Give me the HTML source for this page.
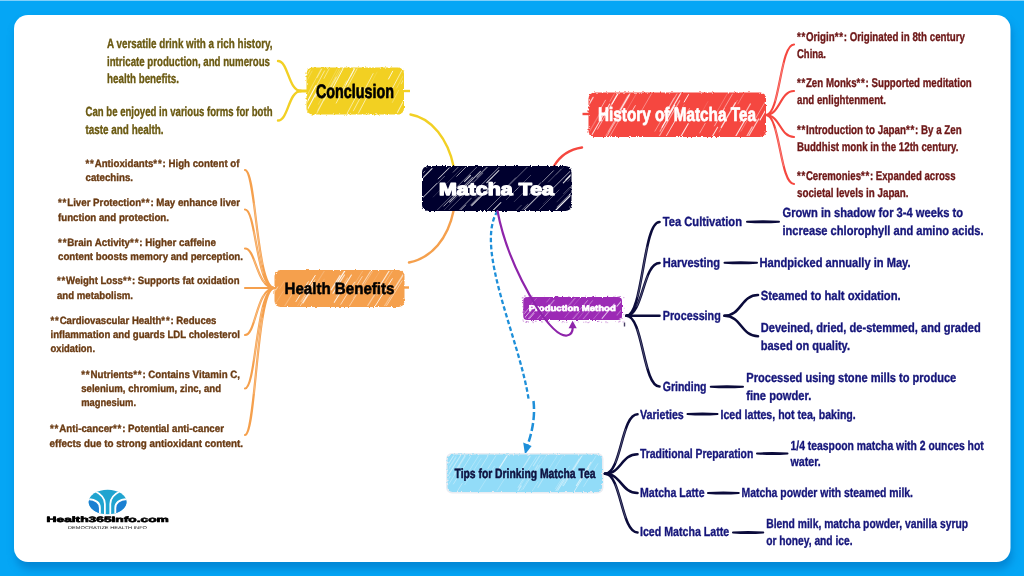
<!DOCTYPE html>
<html><head><meta charset="utf-8"><title>Matcha Tea</title>
<style>
html,body{margin:0;padding:0;width:1024px;height:576px;overflow:hidden;background:#05a6f5;}
svg{display:block;position:absolute;left:0;top:0;font-family:"Liberation Sans", sans-serif;will-change:transform;text-rendering:geometricPrecision;}
</style></head><body>
<svg width="1024" height="576" viewBox="0 0 1024 576">
<defs>
<filter id="rough" x="-5%" y="-10%" width="110%" height="120%"><feTurbulence type="fractalNoise" baseFrequency="0.55" numOctaves="2" seed="3" result="n"/><feDisplacementMap in="SourceGraphic" in2="n" scale="3" xChannelSelector="R" yChannelSelector="G"/></filter>
<filter id="sh" x="-5%" y="-5%" width="110%" height="110%"><feGaussianBlur stdDeviation="4"/></filter>
<linearGradient id="lg" x1="0" y1="0" x2="0" y2="1"><stop offset="0" stop-color="#2bb0dc"/><stop offset="1" stop-color="#1c7fd0"/></linearGradient>
</defs>
<rect width="1024" height="576" fill="#05a6f5"/>
<rect width="1024" height="1" fill="#7fd0fa"/>
<rect x="16" y="21" width="996" height="548" rx="14" fill="#0270bd" opacity="0.6" filter="url(#sh)"/>
<rect x="14" y="15" width="996.5" height="547" rx="14" fill="#fff"/>

<path d="M404,91 L410,91" stroke="#f2d024" stroke-width="2.4" fill="none"/>
<path d="M410.5,114.5 C432,118 448,140 453.5,166" stroke="#f2d024" stroke-width="2.4" fill="none" stroke-linecap="round"/>
<path d="M453.5,211 C448,238 432,258 409,262.5" stroke="#f5a04d" stroke-width="2.4" fill="none" stroke-linecap="round"/>
<path d="M404,287.5 L409,287.5" stroke="#f5a04d" stroke-width="2.4" fill="none"/>
<path d="M554,166 C560,156 568,149.5 582,147.5" stroke="#f5473f" stroke-width="2.4" fill="none" stroke-linecap="round"/>
<path d="M582.5,114 L589,114" stroke="#f5473f" stroke-width="2.4" fill="none"/>
<path d="M497.5,211 C474,248 520,340 528.7,400" stroke="#1e8fd9" stroke-width="2.3" fill="none" stroke-dasharray="4.5,2.5"/>
<path d="M533.5,401 C535.5,418 531.5,434 527.3,446" stroke="#1e8fd9" stroke-width="2.5" fill="none" stroke-dasharray="8,3"/>
<path d="M525,454.5 L523.2,442.6 L531.6,446 Z" fill="#1e8fd9"/>
<clipPath id="ccon"><rect x="307.5" y="68.5" width="95.5" height="45.0" rx="6"/></clipPath>
<rect x="306.5" y="67.5" width="97.5" height="47.0" rx="6" fill="#f2d024" filter="url(#rough)"/>
<g clip-path="url(#ccon)" stroke="#fff" stroke-linecap="round">
<line x1="328.5" y1="89.3" x2="344.1" y2="59.9" stroke-width="0.90" stroke-opacity="0.25"/>
<line x1="334.3" y1="82.5" x2="347.3" y2="58.0" stroke-width="0.83" stroke-opacity="0.23"/>
<line x1="303.2" y1="82.6" x2="314.8" y2="60.9" stroke-width="0.59" stroke-opacity="0.82"/>
<line x1="314.9" y1="116.8" x2="336.1" y2="77.1" stroke-width="0.80" stroke-opacity="0.63"/>
<line x1="396.7" y1="88.0" x2="416.2" y2="51.4" stroke-width="0.61" stroke-opacity="0.42"/>
<line x1="304.8" y1="99.6" x2="323.5" y2="64.4" stroke-width="0.94" stroke-opacity="0.34"/>
<line x1="363.3" y1="98.0" x2="377.1" y2="72.0" stroke-width="0.54" stroke-opacity="0.25"/>
<line x1="317.8" y1="110.4" x2="329.4" y2="88.6" stroke-width="0.94" stroke-opacity="0.44"/>
<line x1="341.1" y1="98.8" x2="359.4" y2="64.4" stroke-width="0.68" stroke-opacity="0.72"/>
<line x1="353.4" y1="110.8" x2="373.1" y2="73.6" stroke-width="0.72" stroke-opacity="0.75"/>
<line x1="401.2" y1="83.8" x2="412.6" y2="62.3" stroke-width="0.61" stroke-opacity="0.77"/>
<line x1="346.1" y1="84.4" x2="362.1" y2="54.3" stroke-width="0.93" stroke-opacity="0.77"/>
<line x1="387.4" y1="97.7" x2="403.9" y2="66.7" stroke-width="0.93" stroke-opacity="0.65"/>
<line x1="340.0" y1="126.8" x2="361.1" y2="87.2" stroke-width="1.00" stroke-opacity="0.56"/>
<line x1="300.2" y1="115.1" x2="315.8" y2="85.8" stroke-width="1.12" stroke-opacity="0.94"/>
<line x1="324.1" y1="100.7" x2="340.1" y2="70.6" stroke-width="0.85" stroke-opacity="0.22"/>
<line x1="317.1" y1="77.6" x2="322.0" y2="68.5" stroke-width="0.60" stroke-opacity="0.78"/>
<line x1="318.3" y1="104.4" x2="338.0" y2="67.3" stroke-width="0.84" stroke-opacity="0.26"/>
<line x1="351.2" y1="126.7" x2="369.9" y2="91.4" stroke-width="0.71" stroke-opacity="0.85"/>
<line x1="336.2" y1="103.1" x2="356.1" y2="65.6" stroke-width="0.61" stroke-opacity="0.92"/>
<line x1="316.4" y1="86.0" x2="324.5" y2="70.9" stroke-width="0.94" stroke-opacity="0.56"/>
<line x1="324.0" y1="78.4" x2="335.5" y2="56.9" stroke-width="0.92" stroke-opacity="0.48"/>
<line x1="397.4" y1="112.4" x2="410.6" y2="87.5" stroke-width="1.01" stroke-opacity="0.66"/>
<line x1="298.3" y1="126.7" x2="316.3" y2="92.8" stroke-width="1.10" stroke-opacity="0.86"/>
<line x1="340.9" y1="91.6" x2="346.5" y2="80.9" stroke-width="0.55" stroke-opacity="0.68"/>
<line x1="305.4" y1="83.6" x2="312.1" y2="71.0" stroke-width="0.54" stroke-opacity="0.46"/>
<line x1="298.7" y1="79.9" x2="304.3" y2="69.3" stroke-width="0.52" stroke-opacity="0.47"/>
<line x1="392.3" y1="102.5" x2="398.7" y2="90.3" stroke-width="0.76" stroke-opacity="0.39"/>
<line x1="331.0" y1="91.4" x2="350.3" y2="55.1" stroke-width="0.85" stroke-opacity="0.94"/>
<line x1="350.7" y1="76.8" x2="356.3" y2="66.2" stroke-width="0.70" stroke-opacity="0.46"/>
<line x1="388.5" y1="79.0" x2="392.7" y2="71.2" stroke-width="0.90" stroke-opacity="0.91"/>
<line x1="315.1" y1="97.0" x2="319.4" y2="89.0" stroke-width="1.23" stroke-opacity="0.60"/>
</g>
<clipPath id="chis"><rect x="589.5" y="93.5" width="175.5" height="42.5" rx="6"/></clipPath>
<rect x="588.5" y="92.5" width="177.5" height="44.5" rx="6" fill="#f5473f" filter="url(#rough)"/>
<g clip-path="url(#chis)" stroke="#fff" stroke-linecap="round">
<line x1="741.0" y1="131.1" x2="749.8" y2="115.9" stroke-width="0.63" stroke-opacity="0.48"/>
<line x1="719.1" y1="132.0" x2="737.3" y2="100.4" stroke-width="0.67" stroke-opacity="0.45"/>
<line x1="725.9" y1="153.3" x2="745.4" y2="119.4" stroke-width="1.11" stroke-opacity="0.80"/>
<line x1="715.5" y1="114.2" x2="728.9" y2="90.9" stroke-width="0.52" stroke-opacity="0.47"/>
<line x1="584.4" y1="112.5" x2="593.1" y2="97.4" stroke-width="1.22" stroke-opacity="0.72"/>
<line x1="656.3" y1="153.3" x2="678.4" y2="115.1" stroke-width="0.77" stroke-opacity="0.92"/>
<line x1="621.0" y1="109.2" x2="628.6" y2="96.0" stroke-width="0.97" stroke-opacity="0.35"/>
<line x1="745.9" y1="140.9" x2="758.7" y2="118.9" stroke-width="1.10" stroke-opacity="0.69"/>
<line x1="589.1" y1="139.7" x2="609.7" y2="104.1" stroke-width="1.06" stroke-opacity="0.79"/>
<line x1="663.9" y1="116.4" x2="682.3" y2="84.5" stroke-width="1.10" stroke-opacity="0.45"/>
<line x1="760.0" y1="119.9" x2="771.3" y2="100.3" stroke-width="1.04" stroke-opacity="0.91"/>
<line x1="612.0" y1="104.0" x2="618.8" y2="92.3" stroke-width="1.10" stroke-opacity="0.88"/>
<line x1="600.0" y1="148.2" x2="621.9" y2="110.3" stroke-width="0.76" stroke-opacity="0.69"/>
<line x1="684.2" y1="102.0" x2="688.5" y2="94.6" stroke-width="0.99" stroke-opacity="0.93"/>
<line x1="676.3" y1="144.4" x2="688.2" y2="123.7" stroke-width="1.12" stroke-opacity="0.85"/>
<line x1="618.4" y1="111.8" x2="627.7" y2="95.6" stroke-width="0.94" stroke-opacity="0.38"/>
<line x1="628.9" y1="116.7" x2="635.3" y2="105.6" stroke-width="0.77" stroke-opacity="0.88"/>
<line x1="659.2" y1="136.2" x2="679.7" y2="100.7" stroke-width="1.19" stroke-opacity="0.52"/>
<line x1="670.8" y1="127.9" x2="684.3" y2="104.4" stroke-width="0.83" stroke-opacity="0.21"/>
<line x1="608.5" y1="108.8" x2="627.1" y2="76.6" stroke-width="0.86" stroke-opacity="0.33"/>
<line x1="714.5" y1="125.9" x2="724.4" y2="108.6" stroke-width="0.92" stroke-opacity="0.59"/>
<line x1="723.4" y1="109.5" x2="737.7" y2="84.9" stroke-width="0.71" stroke-opacity="0.39"/>
<line x1="721.2" y1="127.4" x2="735.4" y2="102.8" stroke-width="1.18" stroke-opacity="0.77"/>
<line x1="660.0" y1="131.2" x2="673.2" y2="108.3" stroke-width="1.02" stroke-opacity="0.58"/>
<line x1="662.0" y1="127.3" x2="674.7" y2="105.2" stroke-width="1.02" stroke-opacity="0.91"/>
<line x1="743.5" y1="142.0" x2="752.2" y2="126.9" stroke-width="1.21" stroke-opacity="0.62"/>
<line x1="737.9" y1="104.0" x2="744.1" y2="93.2" stroke-width="0.55" stroke-opacity="0.53"/>
<line x1="620.5" y1="109.8" x2="636.7" y2="81.7" stroke-width="1.17" stroke-opacity="0.79"/>
<line x1="604.4" y1="138.3" x2="620.5" y2="110.5" stroke-width="1.16" stroke-opacity="0.31"/>
<line x1="754.2" y1="120.8" x2="775.6" y2="83.8" stroke-width="0.87" stroke-opacity="0.50"/>
<line x1="765.6" y1="135.6" x2="772.6" y2="123.5" stroke-width="0.89" stroke-opacity="0.52"/>
<line x1="642.2" y1="109.7" x2="652.0" y2="92.7" stroke-width="0.51" stroke-opacity="0.74"/>
<line x1="685.2" y1="115.9" x2="689.5" y2="108.4" stroke-width="0.97" stroke-opacity="0.45"/>
<line x1="668.6" y1="114.4" x2="690.5" y2="76.3" stroke-width="1.23" stroke-opacity="0.79"/>
<line x1="600.8" y1="108.4" x2="605.5" y2="100.2" stroke-width="0.70" stroke-opacity="0.78"/>
<line x1="597.5" y1="129.2" x2="618.1" y2="93.4" stroke-width="0.69" stroke-opacity="0.81"/>
<line x1="604.3" y1="145.9" x2="618.7" y2="120.9" stroke-width="0.57" stroke-opacity="0.73"/>
<line x1="588.4" y1="133.3" x2="600.2" y2="112.9" stroke-width="1.20" stroke-opacity="0.25"/>
<line x1="699.7" y1="133.0" x2="705.2" y2="123.4" stroke-width="0.55" stroke-opacity="0.84"/>
<line x1="740.2" y1="121.5" x2="750.4" y2="103.9" stroke-width="1.20" stroke-opacity="0.61"/>
<line x1="626.9" y1="110.0" x2="640.5" y2="86.5" stroke-width="0.58" stroke-opacity="0.38"/>
<line x1="609.9" y1="101.4" x2="617.6" y2="88.1" stroke-width="0.73" stroke-opacity="0.43"/>
<line x1="719.3" y1="116.8" x2="732.5" y2="94.0" stroke-width="0.76" stroke-opacity="0.33"/>
<line x1="584.8" y1="107.4" x2="589.0" y2="99.9" stroke-width="0.91" stroke-opacity="0.75"/>
<line x1="608.5" y1="131.9" x2="629.6" y2="95.4" stroke-width="1.11" stroke-opacity="0.28"/>
<line x1="654.9" y1="131.2" x2="674.1" y2="97.9" stroke-width="0.88" stroke-opacity="0.49"/>
<line x1="707.3" y1="145.1" x2="717.6" y2="127.3" stroke-width="1.03" stroke-opacity="0.82"/>
<line x1="697.6" y1="119.5" x2="707.9" y2="101.6" stroke-width="0.60" stroke-opacity="0.24"/>
</g>
<clipPath id="chea"><rect x="275.5" y="271" width="128.0" height="35" rx="6"/></clipPath>
<rect x="274.5" y="270" width="130.0" height="37" rx="6" fill="#f5a04d" filter="url(#rough)"/>
<g clip-path="url(#chea)" stroke="#fff" stroke-linecap="round">
<line x1="275.3" y1="303.9" x2="283.5" y2="290.9" stroke-width="0.56" stroke-opacity="0.32"/>
<line x1="380.0" y1="313.8" x2="394.5" y2="290.6" stroke-width="0.68" stroke-opacity="0.41"/>
<line x1="307.2" y1="292.3" x2="313.9" y2="281.7" stroke-width="0.70" stroke-opacity="0.53"/>
<line x1="397.8" y1="316.1" x2="410.5" y2="295.9" stroke-width="1.22" stroke-opacity="0.38"/>
<line x1="310.7" y1="286.6" x2="315.0" y2="279.8" stroke-width="0.86" stroke-opacity="0.49"/>
<line x1="333.9" y1="287.0" x2="345.9" y2="267.8" stroke-width="0.70" stroke-opacity="0.20"/>
<line x1="279.6" y1="288.7" x2="284.5" y2="280.9" stroke-width="0.73" stroke-opacity="0.22"/>
<line x1="295.9" y1="301.6" x2="308.3" y2="281.8" stroke-width="0.99" stroke-opacity="0.76"/>
<line x1="364.6" y1="310.7" x2="374.9" y2="294.3" stroke-width="1.24" stroke-opacity="0.44"/>
<line x1="283.4" y1="308.1" x2="297.5" y2="285.5" stroke-width="1.13" stroke-opacity="0.23"/>
<line x1="386.6" y1="305.6" x2="402.1" y2="280.8" stroke-width="0.60" stroke-opacity="0.81"/>
<line x1="334.3" y1="302.3" x2="351.4" y2="275.0" stroke-width="1.12" stroke-opacity="0.80"/>
<line x1="343.9" y1="314.8" x2="358.6" y2="291.2" stroke-width="0.67" stroke-opacity="0.72"/>
<line x1="269.0" y1="282.8" x2="278.8" y2="267.1" stroke-width="1.13" stroke-opacity="0.28"/>
<line x1="340.8" y1="304.3" x2="354.6" y2="282.1" stroke-width="0.87" stroke-opacity="0.71"/>
<line x1="262.1" y1="312.1" x2="277.8" y2="286.9" stroke-width="0.90" stroke-opacity="0.58"/>
<line x1="354.0" y1="284.9" x2="369.6" y2="260.0" stroke-width="0.56" stroke-opacity="0.39"/>
<line x1="303.0" y1="302.9" x2="310.4" y2="291.1" stroke-width="1.23" stroke-opacity="0.75"/>
<line x1="332.9" y1="293.4" x2="344.5" y2="274.9" stroke-width="1.08" stroke-opacity="0.71"/>
<line x1="353.2" y1="298.1" x2="358.6" y2="289.4" stroke-width="0.69" stroke-opacity="0.31"/>
<line x1="367.1" y1="291.6" x2="380.0" y2="270.9" stroke-width="0.55" stroke-opacity="0.21"/>
<line x1="299.7" y1="306.8" x2="314.6" y2="283.0" stroke-width="0.72" stroke-opacity="0.71"/>
<line x1="336.1" y1="296.3" x2="347.5" y2="278.1" stroke-width="1.17" stroke-opacity="0.29"/>
<line x1="288.1" y1="321.1" x2="306.7" y2="291.3" stroke-width="0.84" stroke-opacity="0.21"/>
<line x1="378.7" y1="314.7" x2="389.9" y2="296.9" stroke-width="0.66" stroke-opacity="0.40"/>
<line x1="395.3" y1="288.3" x2="408.5" y2="267.3" stroke-width="0.89" stroke-opacity="0.31"/>
<line x1="394.5" y1="288.4" x2="411.3" y2="261.4" stroke-width="1.17" stroke-opacity="0.58"/>
<line x1="358.9" y1="293.0" x2="377.0" y2="264.1" stroke-width="0.52" stroke-opacity="0.56"/>
<line x1="264.4" y1="297.1" x2="275.6" y2="279.3" stroke-width="0.61" stroke-opacity="0.43"/>
<line x1="309.1" y1="295.4" x2="326.2" y2="268.0" stroke-width="1.06" stroke-opacity="0.20"/>
<line x1="377.7" y1="289.2" x2="396.2" y2="259.7" stroke-width="1.18" stroke-opacity="0.73"/>
<line x1="304.9" y1="292.0" x2="315.2" y2="275.5" stroke-width="0.94" stroke-opacity="0.95"/>
<line x1="315.8" y1="292.6" x2="324.2" y2="279.1" stroke-width="0.58" stroke-opacity="0.24"/>
<line x1="377.0" y1="295.5" x2="395.7" y2="265.7" stroke-width="0.70" stroke-opacity="0.39"/>
<line x1="336.0" y1="285.0" x2="346.0" y2="269.0" stroke-width="1.16" stroke-opacity="0.92"/>
<line x1="374.0" y1="308.0" x2="392.3" y2="278.7" stroke-width="0.91" stroke-opacity="0.91"/>
<line x1="362.5" y1="284.2" x2="378.0" y2="259.4" stroke-width="1.06" stroke-opacity="0.54"/>
<line x1="357.2" y1="284.6" x2="362.2" y2="276.6" stroke-width="0.60" stroke-opacity="0.90"/>
<line x1="331.2" y1="289.8" x2="340.0" y2="275.7" stroke-width="1.23" stroke-opacity="0.75"/>
<line x1="301.5" y1="301.4" x2="310.4" y2="287.2" stroke-width="0.80" stroke-opacity="0.62"/>
</g>
<clipPath id="cmat"><rect x="423" y="167" width="147.5" height="43" rx="6"/></clipPath>
<rect x="422" y="166" width="149.5" height="45" rx="6" fill="#05052e" filter="url(#rough)"/>
<g clip-path="url(#cmat)" stroke="#fff" stroke-linecap="round">
<line x1="438.1" y1="178.8" x2="449.2" y2="167.7" stroke-width="0.87" stroke-opacity="0.88"/>
<line x1="436.2" y1="222.6" x2="468.0" y2="190.9" stroke-width="0.60" stroke-opacity="0.54"/>
<line x1="440.4" y1="177.4" x2="455.0" y2="162.8" stroke-width="0.68" stroke-opacity="0.27"/>
<line x1="443.8" y1="206.1" x2="472.6" y2="177.2" stroke-width="0.81" stroke-opacity="0.76"/>
<line x1="475.3" y1="197.3" x2="490.8" y2="181.8" stroke-width="0.55" stroke-opacity="0.45"/>
<line x1="456.8" y1="214.0" x2="465.7" y2="205.1" stroke-width="0.97" stroke-opacity="0.58"/>
<line x1="548.3" y1="182.1" x2="561.0" y2="169.3" stroke-width="0.80" stroke-opacity="0.39"/>
<line x1="474.2" y1="222.9" x2="502.0" y2="195.0" stroke-width="0.52" stroke-opacity="0.85"/>
<line x1="407.6" y1="212.5" x2="436.7" y2="183.4" stroke-width="0.94" stroke-opacity="0.55"/>
<line x1="402.1" y1="198.6" x2="432.0" y2="168.7" stroke-width="1.14" stroke-opacity="0.82"/>
<line x1="567.8" y1="181.4" x2="576.3" y2="172.9" stroke-width="0.89" stroke-opacity="0.32"/>
<line x1="513.5" y1="220.6" x2="538.1" y2="196.1" stroke-width="1.07" stroke-opacity="0.69"/>
<line x1="486.6" y1="194.2" x2="493.3" y2="187.5" stroke-width="0.67" stroke-opacity="0.79"/>
<line x1="556.9" y1="201.9" x2="570.5" y2="188.2" stroke-width="0.69" stroke-opacity="0.30"/>
<line x1="514.2" y1="201.7" x2="522.8" y2="193.1" stroke-width="0.89" stroke-opacity="0.25"/>
<line x1="504.2" y1="189.2" x2="515.7" y2="177.7" stroke-width="0.51" stroke-opacity="0.65"/>
<line x1="449.7" y1="202.1" x2="480.5" y2="171.4" stroke-width="1.16" stroke-opacity="0.68"/>
<line x1="486.8" y1="182.6" x2="498.9" y2="170.5" stroke-width="1.03" stroke-opacity="0.92"/>
<line x1="456.7" y1="176.3" x2="475.4" y2="157.6" stroke-width="0.82" stroke-opacity="0.71"/>
<line x1="443.1" y1="211.0" x2="473.0" y2="181.1" stroke-width="0.53" stroke-opacity="0.37"/>
<line x1="459.2" y1="196.7" x2="482.7" y2="173.2" stroke-width="1.10" stroke-opacity="0.35"/>
<line x1="529.4" y1="194.2" x2="540.4" y2="183.2" stroke-width="0.73" stroke-opacity="0.93"/>
<line x1="542.1" y1="182.1" x2="553.5" y2="170.7" stroke-width="0.72" stroke-opacity="0.77"/>
<line x1="563.6" y1="193.6" x2="574.1" y2="183.0" stroke-width="0.81" stroke-opacity="0.37"/>
<line x1="518.4" y1="213.4" x2="527.9" y2="204.0" stroke-width="0.66" stroke-opacity="0.50"/>
<line x1="568.9" y1="175.9" x2="575.9" y2="168.9" stroke-width="0.79" stroke-opacity="0.25"/>
<line x1="547.8" y1="218.2" x2="572.7" y2="193.3" stroke-width="1.20" stroke-opacity="0.95"/>
<line x1="454.4" y1="189.4" x2="484.6" y2="159.3" stroke-width="0.52" stroke-opacity="0.76"/>
<line x1="515.3" y1="190.8" x2="530.7" y2="175.3" stroke-width="0.63" stroke-opacity="0.45"/>
<line x1="410.0" y1="186.0" x2="424.9" y2="171.2" stroke-width="0.59" stroke-opacity="0.92"/>
<line x1="563.3" y1="182.8" x2="578.3" y2="167.8" stroke-width="1.12" stroke-opacity="0.82"/>
<line x1="477.0" y1="177.2" x2="495.0" y2="159.2" stroke-width="1.19" stroke-opacity="0.48"/>
<line x1="433.2" y1="197.0" x2="462.4" y2="167.8" stroke-width="0.81" stroke-opacity="0.22"/>
<line x1="543.1" y1="203.9" x2="549.8" y2="197.1" stroke-width="0.55" stroke-opacity="0.23"/>
<line x1="551.1" y1="190.2" x2="576.4" y2="165.0" stroke-width="0.75" stroke-opacity="0.87"/>
<line x1="449.5" y1="220.0" x2="471.3" y2="198.2" stroke-width="1.04" stroke-opacity="0.40"/>
<line x1="464.6" y1="181.3" x2="470.4" y2="175.5" stroke-width="1.19" stroke-opacity="0.77"/>
<line x1="515.0" y1="211.6" x2="521.3" y2="205.3" stroke-width="0.86" stroke-opacity="0.38"/>
<line x1="561.7" y1="216.8" x2="577.5" y2="201.0" stroke-width="0.82" stroke-opacity="0.39"/>
<line x1="490.5" y1="213.0" x2="500.9" y2="202.5" stroke-width="1.05" stroke-opacity="0.80"/>
<line x1="537.5" y1="211.5" x2="559.0" y2="190.0" stroke-width="0.74" stroke-opacity="0.45"/>
<line x1="470.9" y1="205.1" x2="478.6" y2="197.3" stroke-width="1.06" stroke-opacity="0.35"/>
<line x1="453.2" y1="172.2" x2="459.7" y2="165.6" stroke-width="0.74" stroke-opacity="0.61"/>
<line x1="557.6" y1="221.5" x2="589.1" y2="190.0" stroke-width="0.56" stroke-opacity="0.40"/>
<line x1="420.3" y1="200.5" x2="444.5" y2="176.3" stroke-width="0.68" stroke-opacity="0.54"/>
<line x1="471.8" y1="205.6" x2="495.1" y2="182.3" stroke-width="1.14" stroke-opacity="0.76"/>
<line x1="509.1" y1="185.3" x2="536.8" y2="157.6" stroke-width="0.93" stroke-opacity="0.42"/>
<line x1="471.1" y1="204.6" x2="481.9" y2="193.8" stroke-width="0.68" stroke-opacity="0.39"/>
<line x1="431.1" y1="216.2" x2="451.8" y2="195.4" stroke-width="0.80" stroke-opacity="0.44"/>
<line x1="569.4" y1="194.7" x2="581.2" y2="183.0" stroke-width="0.99" stroke-opacity="0.81"/>
<line x1="566.0" y1="179.6" x2="584.1" y2="161.6" stroke-width="1.13" stroke-opacity="0.81"/>
<line x1="556.2" y1="174.5" x2="569.5" y2="161.1" stroke-width="0.64" stroke-opacity="0.29"/>
<line x1="557.2" y1="207.2" x2="587.2" y2="177.2" stroke-width="1.15" stroke-opacity="0.48"/>
<line x1="475.6" y1="190.7" x2="501.6" y2="164.7" stroke-width="0.58" stroke-opacity="0.91"/>
<line x1="506.4" y1="199.6" x2="517.8" y2="188.2" stroke-width="0.61" stroke-opacity="0.48"/>
</g>
<rect x="520.5" y="294.5" width="104" height="28" rx="5" fill="#fff"/>
<rect x="547.3" y="322.3" width="1.3" height="0.8" fill="#9c2bb5" opacity="0.76"/>
<rect x="605.3" y="321.0" width="1.3" height="0.8" fill="#9c2bb5" opacity="0.39"/>
<rect x="542.0" y="321.6" width="1.1" height="0.8" fill="#9c2bb5" opacity="0.33"/>
<rect x="561.7" y="322.3" width="0.8" height="0.8" fill="#9c2bb5" opacity="0.57"/>
<rect x="562.0" y="321.0" width="1.0" height="0.8" fill="#9c2bb5" opacity="0.44"/>
<rect x="619.2" y="320.8" width="1.3" height="0.8" fill="#9c2bb5" opacity="0.74"/>
<rect x="522.9" y="320.8" width="1.2" height="0.8" fill="#9c2bb5" opacity="0.50"/>
<rect x="618.0" y="321.6" width="1.5" height="0.8" fill="#9c2bb5" opacity="0.51"/>
<rect x="562.8" y="321.0" width="1.1" height="0.8" fill="#9c2bb5" opacity="0.38"/>
<rect x="577.8" y="321.6" width="0.7" height="0.8" fill="#9c2bb5" opacity="0.61"/>
<rect x="573.0" y="296.3" width="0.9" height="0.8" fill="#9c2bb5" opacity="0.38"/>
<rect x="527.9" y="321.6" width="1.1" height="0.8" fill="#9c2bb5" opacity="0.70"/>
<rect x="522.3" y="303.5" width="1.4" height="0.8" fill="#9c2bb5" opacity="0.32"/>
<rect x="623.0" y="297.3" width="1.5" height="0.8" fill="#9c2bb5" opacity="0.49"/>
<rect x="522.3" y="312.0" width="1.5" height="0.8" fill="#9c2bb5" opacity="0.61"/>
<rect x="541.2" y="321.0" width="0.8" height="0.8" fill="#9c2bb5" opacity="0.41"/>
<rect x="574.3" y="321.6" width="1.0" height="0.8" fill="#9c2bb5" opacity="0.37"/>
<rect x="522.3" y="297.0" width="1.2" height="0.8" fill="#9c2bb5" opacity="0.68"/>
<rect x="607.3" y="295.6" width="1.0" height="0.8" fill="#9c2bb5" opacity="0.53"/>
<rect x="601.1" y="321.8" width="1.0" height="0.8" fill="#9c2bb5" opacity="0.59"/>
<rect x="588.9" y="321.6" width="1.1" height="0.8" fill="#9c2bb5" opacity="0.39"/>
<rect x="622.6" y="321.6" width="0.8" height="0.8" fill="#9c2bb5" opacity="0.68"/>
<rect x="568.2" y="296.0" width="1.4" height="0.8" fill="#9c2bb5" opacity="0.50"/>
<rect x="557.9" y="320.8" width="0.7" height="0.8" fill="#9c2bb5" opacity="0.52"/>
<rect x="525.2" y="321.8" width="0.7" height="0.8" fill="#9c2bb5" opacity="0.76"/>
<rect x="595.2" y="295.6" width="0.7" height="0.8" fill="#9c2bb5" opacity="0.55"/>
<rect x="618.9" y="296.3" width="0.6" height="0.8" fill="#9c2bb5" opacity="0.33"/>
<rect x="592.3" y="296.0" width="0.8" height="0.8" fill="#9c2bb5" opacity="0.79"/>
<rect x="619.5" y="296.0" width="1.3" height="0.8" fill="#9c2bb5" opacity="0.66"/>
<rect x="606.8" y="322.3" width="1.4" height="0.8" fill="#9c2bb5" opacity="0.38"/>
<rect x="549.3" y="321.0" width="0.7" height="0.8" fill="#9c2bb5" opacity="0.55"/>
<rect x="522.3" y="310.8" width="1.2" height="0.8" fill="#9c2bb5" opacity="0.42"/>
<rect x="541.5" y="321.6" width="0.8" height="0.8" fill="#9c2bb5" opacity="0.77"/>
<rect x="613.2" y="296.0" width="1.4" height="0.8" fill="#9c2bb5" opacity="0.43"/>
<rect x="526.0" y="321.0" width="1.6" height="0.8" fill="#9c2bb5" opacity="0.53"/>
<rect x="591.9" y="296.0" width="0.9" height="0.8" fill="#9c2bb5" opacity="0.57"/>
<rect x="597.0" y="321.0" width="0.9" height="0.8" fill="#9c2bb5" opacity="0.80"/>
<rect x="558.1" y="296.0" width="1.0" height="0.8" fill="#9c2bb5" opacity="0.39"/>
<rect x="526.0" y="321.8" width="0.9" height="0.8" fill="#9c2bb5" opacity="0.62"/>
<rect x="623.0" y="314.3" width="1.3" height="0.8" fill="#9c2bb5" opacity="0.41"/>
<rect x="585.4" y="321.6" width="1.1" height="0.8" fill="#9c2bb5" opacity="0.75"/>
<rect x="544.4" y="295.6" width="0.6" height="0.8" fill="#9c2bb5" opacity="0.30"/>
<rect x="532.0" y="320.8" width="1.1" height="0.8" fill="#9c2bb5" opacity="0.51"/>
<rect x="534.8" y="320.8" width="1.2" height="0.8" fill="#9c2bb5" opacity="0.54"/>
<rect x="617.5" y="296.3" width="1.3" height="0.8" fill="#9c2bb5" opacity="0.53"/>
<rect x="535.9" y="320.8" width="1.0" height="0.8" fill="#9c2bb5" opacity="0.43"/>
<rect x="587.4" y="322.3" width="1.5" height="0.8" fill="#9c2bb5" opacity="0.60"/>
<rect x="583.0" y="321.8" width="1.3" height="0.8" fill="#9c2bb5" opacity="0.42"/>
<rect x="521.6" y="297.5" width="0.6" height="0.8" fill="#9c2bb5" opacity="0.39"/>
<rect x="614.9" y="295.6" width="0.6" height="0.8" fill="#9c2bb5" opacity="0.58"/>
<rect x="522.3" y="306.3" width="1.1" height="0.8" fill="#9c2bb5" opacity="0.62"/>
<rect x="563.8" y="321.8" width="0.8" height="0.8" fill="#9c2bb5" opacity="0.45"/>
<rect x="526.0" y="321.6" width="1.3" height="0.8" fill="#9c2bb5" opacity="0.30"/>
<rect x="597.8" y="321.0" width="0.7" height="0.8" fill="#9c2bb5" opacity="0.63"/>
<rect x="623.7" y="320.8" width="0.8" height="0.8" fill="#9c2bb5" opacity="0.32"/>
<rect x="598.2" y="320.8" width="1.3" height="0.8" fill="#9c2bb5" opacity="0.43"/>
<rect x="565.9" y="321.8" width="1.6" height="0.8" fill="#9c2bb5" opacity="0.45"/>
<rect x="522.3" y="298.1" width="1.1" height="0.8" fill="#9c2bb5" opacity="0.38"/>
<rect x="522.3" y="319.6" width="1.3" height="0.8" fill="#9c2bb5" opacity="0.46"/>
<rect x="554.8" y="296.0" width="1.0" height="0.8" fill="#9c2bb5" opacity="0.73"/>
<rect x="623.8" y="307.8" width="1.1" height="0.8" fill="#9c2bb5" opacity="0.30"/>
<rect x="619.4" y="296.3" width="1.2" height="0.8" fill="#9c2bb5" opacity="0.45"/>
<rect x="585.1" y="295.6" width="1.2" height="0.8" fill="#9c2bb5" opacity="0.39"/>
<rect x="532.5" y="322.3" width="1.5" height="0.8" fill="#9c2bb5" opacity="0.47"/>
<rect x="524.0" y="295.6" width="0.7" height="0.8" fill="#9c2bb5" opacity="0.62"/>
<rect x="528.0" y="295.6" width="0.7" height="0.8" fill="#9c2bb5" opacity="0.60"/>
<rect x="605.2" y="322.3" width="1.5" height="0.8" fill="#9c2bb5" opacity="0.33"/>
<rect x="615.2" y="321.0" width="0.7" height="0.8" fill="#9c2bb5" opacity="0.40"/>
<rect x="524.5" y="295.6" width="1.4" height="0.8" fill="#9c2bb5" opacity="0.62"/>
<rect x="531.3" y="295.6" width="1.4" height="0.8" fill="#9c2bb5" opacity="0.62"/>
<rect x="623.8" y="322.5" width="1.4" height="4" fill="#1a1040" opacity="0.8"/>
<clipPath id="cpro"><rect x="524.25" y="298" width="96.75" height="21" rx="4"/></clipPath>
<rect x="523.25" y="297" width="98.75" height="23" rx="4" fill="#9c2bb5" filter="url(#rough)"/>
<g clip-path="url(#cpro)" stroke="#fff" stroke-linecap="round">
<line x1="546.4" y1="309.3" x2="554.1" y2="300.2" stroke-width="1.20" stroke-opacity="0.38"/>
<line x1="516.6" y1="322.8" x2="530.5" y2="306.2" stroke-width="0.95" stroke-opacity="0.58"/>
<line x1="563.9" y1="311.0" x2="576.2" y2="296.3" stroke-width="0.52" stroke-opacity="0.59"/>
<line x1="569.8" y1="305.0" x2="579.5" y2="293.5" stroke-width="0.92" stroke-opacity="0.22"/>
<line x1="590.6" y1="322.4" x2="601.3" y2="309.7" stroke-width="0.83" stroke-opacity="0.34"/>
<line x1="569.0" y1="311.0" x2="581.4" y2="296.3" stroke-width="0.76" stroke-opacity="0.23"/>
<line x1="522.1" y1="320.8" x2="535.2" y2="305.2" stroke-width="0.94" stroke-opacity="0.68"/>
<line x1="617.0" y1="315.2" x2="627.7" y2="302.5" stroke-width="1.11" stroke-opacity="0.28"/>
<line x1="616.9" y1="306.3" x2="623.7" y2="298.3" stroke-width="1.08" stroke-opacity="0.67"/>
<line x1="566.3" y1="326.1" x2="576.8" y2="313.5" stroke-width="0.74" stroke-opacity="0.25"/>
<line x1="521.7" y1="326.5" x2="535.5" y2="310.2" stroke-width="0.82" stroke-opacity="0.57"/>
<line x1="584.5" y1="310.4" x2="592.5" y2="300.7" stroke-width="0.91" stroke-opacity="0.41"/>
<line x1="531.2" y1="326.3" x2="542.5" y2="312.9" stroke-width="0.60" stroke-opacity="0.67"/>
<line x1="577.4" y1="319.4" x2="588.3" y2="306.3" stroke-width="0.94" stroke-opacity="0.22"/>
<line x1="570.2" y1="322.6" x2="579.7" y2="311.3" stroke-width="0.74" stroke-opacity="0.48"/>
<line x1="564.8" y1="317.4" x2="572.4" y2="308.3" stroke-width="0.75" stroke-opacity="0.32"/>
<line x1="583.1" y1="319.0" x2="593.2" y2="307.0" stroke-width="1.07" stroke-opacity="0.33"/>
<line x1="602.1" y1="318.4" x2="614.2" y2="304.0" stroke-width="1.04" stroke-opacity="0.69"/>
<line x1="580.1" y1="309.4" x2="587.5" y2="300.6" stroke-width="0.69" stroke-opacity="0.68"/>
<line x1="618.7" y1="323.9" x2="625.5" y2="315.9" stroke-width="0.65" stroke-opacity="0.53"/>
<line x1="530.6" y1="305.2" x2="538.7" y2="295.6" stroke-width="0.71" stroke-opacity="0.35"/>
<line x1="526.2" y1="322.6" x2="534.1" y2="313.3" stroke-width="0.85" stroke-opacity="0.64"/>
<line x1="514.9" y1="322.2" x2="524.3" y2="311.1" stroke-width="1.24" stroke-opacity="0.31"/>
<line x1="546.7" y1="302.1" x2="554.3" y2="293.0" stroke-width="0.50" stroke-opacity="0.57"/>
<line x1="538.6" y1="323.7" x2="550.5" y2="309.5" stroke-width="0.99" stroke-opacity="0.49"/>
</g>
<rect x="446" y="453" width="157.5" height="40.5" rx="6" fill="#e9ecf2"/>
<clipPath id="ctip"><rect x="448.5" y="455.5" width="152.5" height="35.5" rx="5"/></clipPath>
<rect x="447.5" y="454.5" width="154.5" height="37.5" rx="5" fill="#92dcf8" filter="url(#rough)"/>
<g clip-path="url(#ctip)" stroke="#fff" stroke-linecap="round">
<line x1="574.4" y1="491.1" x2="588.9" y2="468.0" stroke-width="0.98" stroke-opacity="0.55"/>
<line x1="535.0" y1="468.7" x2="542.1" y2="457.4" stroke-width="0.82" stroke-opacity="0.25"/>
<line x1="476.1" y1="495.4" x2="494.4" y2="466.2" stroke-width="0.80" stroke-opacity="0.30"/>
<line x1="551.0" y1="474.4" x2="568.5" y2="446.3" stroke-width="0.51" stroke-opacity="0.39"/>
<line x1="576.4" y1="485.6" x2="591.0" y2="462.3" stroke-width="1.17" stroke-opacity="0.55"/>
<line x1="487.8" y1="468.7" x2="505.1" y2="441.1" stroke-width="0.58" stroke-opacity="0.56"/>
<line x1="476.1" y1="475.0" x2="491.5" y2="450.3" stroke-width="0.65" stroke-opacity="0.58"/>
<line x1="494.1" y1="495.4" x2="505.5" y2="477.2" stroke-width="0.86" stroke-opacity="0.28"/>
<line x1="440.1" y1="492.2" x2="450.2" y2="476.2" stroke-width="1.06" stroke-opacity="0.34"/>
<line x1="514.1" y1="497.3" x2="521.2" y2="485.9" stroke-width="1.20" stroke-opacity="0.41"/>
<line x1="555.3" y1="488.9" x2="569.5" y2="466.2" stroke-width="0.79" stroke-opacity="0.30"/>
<line x1="443.3" y1="472.2" x2="461.9" y2="442.5" stroke-width="1.01" stroke-opacity="0.45"/>
<line x1="533.4" y1="465.8" x2="542.4" y2="451.4" stroke-width="1.22" stroke-opacity="0.36"/>
<line x1="592.7" y1="507.2" x2="611.9" y2="476.4" stroke-width="0.62" stroke-opacity="0.38"/>
<line x1="587.0" y1="470.5" x2="603.7" y2="443.7" stroke-width="0.98" stroke-opacity="0.28"/>
<line x1="557.8" y1="490.3" x2="564.3" y2="479.8" stroke-width="1.12" stroke-opacity="0.47"/>
<line x1="563.4" y1="485.9" x2="583.2" y2="454.1" stroke-width="0.99" stroke-opacity="0.50"/>
<line x1="562.5" y1="485.3" x2="579.0" y2="458.9" stroke-width="1.03" stroke-opacity="0.29"/>
<line x1="548.2" y1="503.2" x2="563.0" y2="479.5" stroke-width="1.10" stroke-opacity="0.39"/>
<line x1="566.7" y1="479.5" x2="581.2" y2="456.3" stroke-width="0.86" stroke-opacity="0.33"/>
<line x1="535.9" y1="472.3" x2="554.2" y2="443.1" stroke-width="0.73" stroke-opacity="0.26"/>
<line x1="499.3" y1="468.2" x2="512.4" y2="447.2" stroke-width="1.21" stroke-opacity="0.33"/>
<line x1="523.1" y1="478.1" x2="536.5" y2="456.8" stroke-width="0.66" stroke-opacity="0.46"/>
<line x1="447.5" y1="476.5" x2="461.2" y2="454.5" stroke-width="1.14" stroke-opacity="0.43"/>
<line x1="464.8" y1="484.7" x2="481.3" y2="458.2" stroke-width="0.80" stroke-opacity="0.28"/>
<line x1="522.9" y1="489.4" x2="537.9" y2="465.4" stroke-width="0.57" stroke-opacity="0.59"/>
<line x1="583.7" y1="486.4" x2="597.9" y2="463.7" stroke-width="0.87" stroke-opacity="0.32"/>
<line x1="468.9" y1="471.3" x2="486.2" y2="443.6" stroke-width="0.59" stroke-opacity="0.47"/>
<line x1="453.4" y1="484.0" x2="470.6" y2="456.5" stroke-width="0.92" stroke-opacity="0.39"/>
<line x1="514.6" y1="500.6" x2="529.8" y2="476.3" stroke-width="0.62" stroke-opacity="0.30"/>
<line x1="537.8" y1="487.4" x2="544.5" y2="476.6" stroke-width="1.02" stroke-opacity="0.33"/>
<line x1="518.6" y1="474.8" x2="530.1" y2="456.4" stroke-width="1.25" stroke-opacity="0.37"/>
<line x1="548.8" y1="469.2" x2="558.6" y2="453.4" stroke-width="0.52" stroke-opacity="0.46"/>
<line x1="440.1" y1="498.0" x2="460.0" y2="466.2" stroke-width="0.57" stroke-opacity="0.52"/>
<line x1="518.9" y1="488.1" x2="525.4" y2="477.7" stroke-width="0.81" stroke-opacity="0.29"/>
<line x1="456.1" y1="469.7" x2="470.6" y2="446.4" stroke-width="1.08" stroke-opacity="0.34"/>
<line x1="529.3" y1="495.7" x2="538.0" y2="481.8" stroke-width="0.69" stroke-opacity="0.34"/>
<line x1="446.3" y1="473.2" x2="456.1" y2="457.5" stroke-width="0.75" stroke-opacity="0.40"/>
<line x1="599.6" y1="494.9" x2="609.2" y2="479.5" stroke-width="0.87" stroke-opacity="0.28"/>
<line x1="454.2" y1="474.0" x2="469.6" y2="449.4" stroke-width="1.23" stroke-opacity="0.25"/>
<line x1="451.7" y1="500.3" x2="462.1" y2="483.5" stroke-width="0.80" stroke-opacity="0.42"/>
<line x1="534.0" y1="474.2" x2="539.9" y2="464.7" stroke-width="1.12" stroke-opacity="0.22"/>
<line x1="518.1" y1="487.4" x2="523.2" y2="479.1" stroke-width="0.91" stroke-opacity="0.40"/>
<line x1="497.0" y1="471.8" x2="511.7" y2="448.2" stroke-width="1.16" stroke-opacity="0.48"/>
<line x1="449.1" y1="467.3" x2="463.2" y2="444.7" stroke-width="0.63" stroke-opacity="0.45"/>
</g>
<text x="316" y="98" font-size="19.5" fill="#000" font-weight="bold" textLength="78" lengthAdjust="spacingAndGlyphs" stroke="#000" stroke-width="0.7" stroke-linejoin="round">Conclusion</text>
<text x="598" y="120.5" font-size="19.5" fill="#fff" font-weight="bold" textLength="158" lengthAdjust="spacingAndGlyphs" stroke="#fff" stroke-width="0.7" stroke-linejoin="round">History of Matcha Tea</text>
<text x="284.5" y="293.75" font-size="16.3" fill="#000" font-weight="bold" textLength="110.0" lengthAdjust="spacingAndGlyphs" stroke="#000" stroke-width="0.5" stroke-linejoin="round">Health Benefits</text>
<text x="439" y="195.4" font-size="17.4" fill="#fff" font-weight="bold" textLength="115" lengthAdjust="spacingAndGlyphs" stroke="#fff" stroke-width="1.3" stroke-linejoin="round">Matcha Tea</text>
<text x="528.75" y="310.75" font-size="8.3" fill="#fff" font-weight="bold" textLength="87.0" lengthAdjust="spacingAndGlyphs" stroke="#fff" stroke-width="0.7" stroke-linejoin="round">Production Method</text>
<text x="454.5" y="478" font-size="13.4" fill="#0e1240" font-weight="bold" textLength="141.0" lengthAdjust="spacingAndGlyphs" stroke="#0e1240" stroke-width="0.5" stroke-linejoin="round">Tips for Drinking Matcha Tea</text>
<path d="M497.5,211 C504,245 520,280 537,307.5 C549,326 559,336.5 567,335.5 C571.5,335 573,331 572.7,326" stroke="#8e24aa" stroke-width="2.2" fill="none" stroke-linecap="round"/>
<path d="M572.6,320.8 L568.6,328.3 L576.8,328.3 Z" fill="#8e24aa"/>
<path d="M301,91 C288.35,91 288.35,61 278,61" fill="none" stroke="#f2d024" stroke-width="2.4" stroke-linecap="round" />
<path d="M301,91 C288.35,91 288.35,120.5 278,120.5" fill="none" stroke="#f2d024" stroke-width="2.4" stroke-linecap="round" />
<path d="M298,91 L307,91" stroke="#f2d024" stroke-width="3" fill="none"/>
<text x="107" y="48" font-size="13.3" fill="#6b5a12" font-weight="bold" textLength="165.5" lengthAdjust="spacingAndGlyphs" stroke="#6b5a12" stroke-width="0.35" stroke-linejoin="round">A versatile drink with a rich history,</text>
<text x="107" y="65.6" font-size="13.3" fill="#6b5a12" font-weight="bold" textLength="163" lengthAdjust="spacingAndGlyphs" stroke="#6b5a12" stroke-width="0.35" stroke-linejoin="round">intricate production, and numerous</text>
<text x="107" y="83.4" font-size="13.3" fill="#6b5a12" font-weight="bold" textLength="72" lengthAdjust="spacingAndGlyphs" stroke="#6b5a12" stroke-width="0.35" stroke-linejoin="round">health benefits.</text>
<text x="85.5" y="116" font-size="13.3" fill="#6b5a12" font-weight="bold" textLength="187.0" lengthAdjust="spacingAndGlyphs" stroke="#6b5a12" stroke-width="0.35" stroke-linejoin="round">Can be enjoyed in various forms for both</text>
<text x="85.5" y="134" font-size="13.3" fill="#6b5a12" font-weight="bold" textLength="78.0" lengthAdjust="spacingAndGlyphs" stroke="#6b5a12" stroke-width="0.35" stroke-linejoin="round">taste and health.</text>
<path d="M274.5,288 C256.21,288 256.21,170 245,170" fill="none" stroke="#f5a04d" stroke-width="2.2" stroke-linecap="round" />
<path d="M274.5,288 C256.21,288 256.21,170 245,170" pathLength="100" fill="none" stroke="#fff" stroke-opacity="0.55" stroke-width="0.5" stroke-dasharray="0 22 50 100"/>
<path d="M274.5,288 C256.21,288 256.21,209.5 245,209.5" fill="none" stroke="#f5a04d" stroke-width="2.2" stroke-linecap="round" />
<path d="M274.5,288 C256.21,288 256.21,209.5 245,209.5" pathLength="100" fill="none" stroke="#fff" stroke-opacity="0.55" stroke-width="0.5" stroke-dasharray="0 22 50 100"/>
<path d="M274.5,288 C256.21,288 256.21,248.5 245,248.5" fill="none" stroke="#f5a04d" stroke-width="2.2" stroke-linecap="round" />
<path d="M274.5,288 C256.21,288 256.21,248.5 245,248.5" pathLength="100" fill="none" stroke="#fff" stroke-opacity="0.55" stroke-width="0.5" stroke-dasharray="0 22 50 100"/>
<path d="M274.5,288 C256.21,288 256.21,335 245,335" fill="none" stroke="#f5a04d" stroke-width="2.2" stroke-linecap="round" />
<path d="M274.5,288 C256.21,288 256.21,335 245,335" pathLength="100" fill="none" stroke="#fff" stroke-opacity="0.55" stroke-width="0.5" stroke-dasharray="0 22 50 100"/>
<path d="M274.5,288 C256.21,288 256.21,388.5 245,388.5" fill="none" stroke="#f5a04d" stroke-width="2.2" stroke-linecap="round" />
<path d="M274.5,288 C256.21,288 256.21,388.5 245,388.5" pathLength="100" fill="none" stroke="#fff" stroke-opacity="0.55" stroke-width="0.5" stroke-dasharray="0 22 50 100"/>
<path d="M274.5,288 C256.21,288 256.21,435 245,435" fill="none" stroke="#f5a04d" stroke-width="2.2" stroke-linecap="round" />
<path d="M274.5,288 C256.21,288 256.21,435 245,435" pathLength="100" fill="none" stroke="#fff" stroke-opacity="0.55" stroke-width="0.5" stroke-dasharray="0 22 50 100"/>
<path d="M245,288 L275,288" stroke="#f5a04d" stroke-width="2.2" fill="none" stroke-linecap="round"/>
<text x="85.5" y="167.4" font-size="10.6" fill="#6a3b13" font-weight="bold" textLength="154.0" lengthAdjust="spacingAndGlyphs" stroke="#6a3b13" stroke-width="0.35" stroke-linejoin="round"><tspan letter-spacing="0.9">**</tspan>Antioxidants<tspan letter-spacing="0.9">**</tspan>: High content of</text>
<text x="85.5" y="181.4" font-size="10.6" fill="#6a3b13" font-weight="bold" textLength="47.5" lengthAdjust="spacingAndGlyphs" stroke="#6a3b13" stroke-width="0.35" stroke-linejoin="round">catechins.</text>
<text x="58" y="206.4" font-size="10.6" fill="#6a3b13" font-weight="bold" textLength="182" lengthAdjust="spacingAndGlyphs" stroke="#6a3b13" stroke-width="0.35" stroke-linejoin="round"><tspan letter-spacing="0.9">**</tspan>Liver Protection<tspan letter-spacing="0.9">**</tspan>: May enhance liver</text>
<text x="58" y="220.65" font-size="10.6" fill="#6a3b13" font-weight="bold" textLength="111" lengthAdjust="spacingAndGlyphs" stroke="#6a3b13" stroke-width="0.35" stroke-linejoin="round">function and protection.</text>
<text x="58" y="245.65" font-size="10.6" fill="#6a3b13" font-weight="bold" textLength="158" lengthAdjust="spacingAndGlyphs" stroke="#6a3b13" stroke-width="0.35" stroke-linejoin="round"><tspan letter-spacing="0.9">**</tspan>Brain Activity<tspan letter-spacing="0.9">**</tspan>: Higher caffeine</text>
<text x="58" y="259.65" font-size="10.6" fill="#6a3b13" font-weight="bold" textLength="185" lengthAdjust="spacingAndGlyphs" stroke="#6a3b13" stroke-width="0.35" stroke-linejoin="round">content boosts memory and perception.</text>
<text x="57" y="284.4" font-size="10.6" fill="#6a3b13" font-weight="bold" textLength="182.5" lengthAdjust="spacingAndGlyphs" stroke="#6a3b13" stroke-width="0.35" stroke-linejoin="round"><tspan letter-spacing="0.9">**</tspan>Weight Loss<tspan letter-spacing="0.9">**</tspan>: Supports fat oxidation</text>
<text x="57" y="298.9" font-size="10.6" fill="#6a3b13" font-weight="bold" textLength="76" lengthAdjust="spacingAndGlyphs" stroke="#6a3b13" stroke-width="0.35" stroke-linejoin="round">and metabolism.</text>
<text x="50.5" y="323.9" font-size="10.6" fill="#6a3b13" font-weight="bold" textLength="166.0" lengthAdjust="spacingAndGlyphs" stroke="#6a3b13" stroke-width="0.35" stroke-linejoin="round"><tspan letter-spacing="0.9">**</tspan>Cardiovascular Health<tspan letter-spacing="0.9">**</tspan>: Reduces</text>
<text x="50.5" y="337.9" font-size="10.6" fill="#6a3b13" font-weight="bold" textLength="189.5" lengthAdjust="spacingAndGlyphs" stroke="#6a3b13" stroke-width="0.35" stroke-linejoin="round">inflammation and guards LDL cholesterol</text>
<text x="50.5" y="352.15" font-size="10.6" fill="#6a3b13" font-weight="bold" textLength="44.5" lengthAdjust="spacingAndGlyphs" stroke="#6a3b13" stroke-width="0.35" stroke-linejoin="round">oxidation.</text>
<text x="81.25" y="377.9" font-size="10.6" fill="#6a3b13" font-weight="bold" textLength="158.75" lengthAdjust="spacingAndGlyphs" stroke="#6a3b13" stroke-width="0.35" stroke-linejoin="round"><tspan letter-spacing="0.9">**</tspan>Nutrients<tspan letter-spacing="0.9">**</tspan>: Contains Vitamin C,</text>
<text x="81.25" y="392.15" font-size="10.6" fill="#6a3b13" font-weight="bold" textLength="139.75" lengthAdjust="spacingAndGlyphs" stroke="#6a3b13" stroke-width="0.35" stroke-linejoin="round">selenium, chromium, zinc, and</text>
<text x="81.25" y="405.9" font-size="10.6" fill="#6a3b13" font-weight="bold" textLength="54.75" lengthAdjust="spacingAndGlyphs" stroke="#6a3b13" stroke-width="0.35" stroke-linejoin="round">magnesium.</text>
<text x="50" y="431.9" font-size="10.6" fill="#6a3b13" font-weight="bold" textLength="174" lengthAdjust="spacingAndGlyphs" stroke="#6a3b13" stroke-width="0.35" stroke-linejoin="round"><tspan letter-spacing="0.9">**</tspan>Anti-cancer<tspan letter-spacing="0.9">**</tspan>: Potential anti-cancer</text>
<text x="49.5" y="446.65" font-size="10.6" fill="#6a3b13" font-weight="bold" textLength="193.5" lengthAdjust="spacingAndGlyphs" stroke="#6a3b13" stroke-width="0.35" stroke-linejoin="round">effects due to strong antioxidant content.</text>
<path d="M766,115 C780.0,115 780.0,44.5 794,44.5" fill="none" stroke="#f5473f" stroke-width="2.2" stroke-linecap="round" />
<path d="M766,115 C780.0,115 780.0,44.5 794,44.5" pathLength="100" fill="none" stroke="#fff" stroke-opacity="0.55" stroke-width="0.5" stroke-dasharray="0 22 50 100"/>
<path d="M766,115 C780.0,115 780.0,91 794,91" fill="none" stroke="#f5473f" stroke-width="2.2" stroke-linecap="round" />
<path d="M766,115 C780.0,115 780.0,137 794,137" fill="none" stroke="#f5473f" stroke-width="2.2" stroke-linecap="round" />
<path d="M766,115 C780.0,115 780.0,184 794,184" fill="none" stroke="#f5473f" stroke-width="2.2" stroke-linecap="round" />
<path d="M766,115 C780.0,115 780.0,184 794,184" pathLength="100" fill="none" stroke="#fff" stroke-opacity="0.55" stroke-width="0.5" stroke-dasharray="0 22 50 100"/>
<text x="797" y="40.75" font-size="12.6" fill="#6d1717" font-weight="bold" textLength="168" lengthAdjust="spacingAndGlyphs" stroke="#6d1717" stroke-width="0.35" stroke-linejoin="round"><tspan letter-spacing="0.9">**</tspan>Origin<tspan letter-spacing="0.9">**</tspan>: Originated in 8th century</text>
<text x="797" y="57.5" font-size="12.6" fill="#6d1717" font-weight="bold" textLength="29" lengthAdjust="spacingAndGlyphs" stroke="#6d1717" stroke-width="0.35" stroke-linejoin="round">China.</text>
<text x="797" y="86.75" font-size="12.6" fill="#6d1717" font-weight="bold" textLength="174.75" lengthAdjust="spacingAndGlyphs" stroke="#6d1717" stroke-width="0.35" stroke-linejoin="round"><tspan letter-spacing="0.9">**</tspan>Zen Monks<tspan letter-spacing="0.9">**</tspan>: Supported meditation</text>
<text x="797" y="103.75" font-size="12.6" fill="#6d1717" font-weight="bold" textLength="89" lengthAdjust="spacingAndGlyphs" stroke="#6d1717" stroke-width="0.35" stroke-linejoin="round">and enlightenment.</text>
<text x="797" y="133.75" font-size="12.6" fill="#6d1717" font-weight="bold" textLength="164.75" lengthAdjust="spacingAndGlyphs" stroke="#6d1717" stroke-width="0.35" stroke-linejoin="round"><tspan letter-spacing="0.9">**</tspan>Introduction to Japan<tspan letter-spacing="0.9">**</tspan>: By a Zen</text>
<text x="797" y="150.5" font-size="12.6" fill="#6d1717" font-weight="bold" textLength="161.5" lengthAdjust="spacingAndGlyphs" stroke="#6d1717" stroke-width="0.35" stroke-linejoin="round">Buddhist monk in the 12th century.</text>
<text x="797" y="180.25" font-size="12.6" fill="#6d1717" font-weight="bold" textLength="158.5" lengthAdjust="spacingAndGlyphs" stroke="#6d1717" stroke-width="0.35" stroke-linejoin="round"><tspan letter-spacing="0.9">**</tspan>Ceremonies<tspan letter-spacing="0.9">**</tspan>: Expanded across</text>
<text x="797" y="197.25" font-size="12.6" fill="#6d1717" font-weight="bold" textLength="111.5" lengthAdjust="spacingAndGlyphs" stroke="#6d1717" stroke-width="0.35" stroke-linejoin="round">societal levels in Japan.</text>
<path d="M626.5,315.75 C643.0,315.75 643.0,222 659.5,222" fill="none" stroke="#0b0b3b" stroke-width="2.6" stroke-linecap="round" />
<path d="M626.5,315.75 C643.0,315.75 643.0,222 659.5,222" pathLength="100" fill="none" stroke="#fff" stroke-opacity="0.55" stroke-width="0.5" stroke-dasharray="0 22 50 100"/>
<path d="M626.5,315.75 C643.0,315.75 643.0,263 659.5,263" fill="none" stroke="#0b0b3b" stroke-width="2.6" stroke-linecap="round" />
<path d="M626.5,315.75 C643.0,315.75 643.0,263 659.5,263" pathLength="100" fill="none" stroke="#fff" stroke-opacity="0.55" stroke-width="0.5" stroke-dasharray="0 22 50 100"/>
<path d="M626.5,315.75 C643.0,315.75 643.0,386.5 659.5,386.5" fill="none" stroke="#0b0b3b" stroke-width="2.6" stroke-linecap="round" />
<path d="M626.5,315.75 C643.0,315.75 643.0,386.5 659.5,386.5" pathLength="100" fill="none" stroke="#fff" stroke-opacity="0.55" stroke-width="0.5" stroke-dasharray="0 22 50 100"/>
<path d="M626.5,315.75 L659.5,315.75" stroke="#0b0b3b" stroke-width="2.6" fill="none" stroke-linecap="round"/>
<text x="662.75" y="226" font-size="13.2" fill="#15157a" font-weight="bold" textLength="79.25" lengthAdjust="spacingAndGlyphs" stroke="#15157a" stroke-width="0.35" stroke-linejoin="round">Tea Cultivation</text>
<path d="M747,221.75 Q763.0,220.75 779,221.75 Q763.0,222.75 747,221.75 Z" stroke="#0b0b3b" stroke-width="2.0" stroke-linejoin="round" fill="#0b0b3b"/>
<text x="782.5" y="216.5" font-size="13.2" fill="#15157a" font-weight="bold" textLength="180.5" lengthAdjust="spacingAndGlyphs" stroke="#15157a" stroke-width="0.35" stroke-linejoin="round">Grown in shadow for 3-4 weeks to</text>
<text x="782.5" y="235.25" font-size="13.2" fill="#15157a" font-weight="bold" textLength="201.0" lengthAdjust="spacingAndGlyphs" stroke="#15157a" stroke-width="0.35" stroke-linejoin="round">increase chlorophyll and amino acids.</text>
<text x="662.75" y="267.25" font-size="13.2" fill="#15157a" font-weight="bold" textLength="57.25" lengthAdjust="spacingAndGlyphs" stroke="#15157a" stroke-width="0.35" stroke-linejoin="round">Harvesting</text>
<path d="M724.5,262.75 Q740.75,261.75 757,262.75 Q740.75,263.75 724.5,262.75 Z" stroke="#0b0b3b" stroke-width="2.0" stroke-linejoin="round" fill="#0b0b3b"/>
<text x="759.5" y="267.25" font-size="13.2" fill="#15157a" font-weight="bold" textLength="151.0" lengthAdjust="spacingAndGlyphs" stroke="#15157a" stroke-width="0.35" stroke-linejoin="round">Handpicked annually in May.</text>
<text x="662.75" y="319.5" font-size="13.2" fill="#15157a" font-weight="bold" textLength="58.0" lengthAdjust="spacingAndGlyphs" stroke="#15157a" stroke-width="0.35" stroke-linejoin="round">Processing</text>
<path d="M724.5,315.75 C741.25,315.75 741.25,295 758,295" fill="none" stroke="#0b0b3b" stroke-width="2.6" stroke-linecap="round" />
<path d="M724.5,315.75 C741.25,315.75 741.25,336.25 758,336.25" fill="none" stroke="#0b0b3b" stroke-width="2.6" stroke-linecap="round" />
<text x="760.75" y="299.5" font-size="13.2" fill="#15157a" font-weight="bold" textLength="140.0" lengthAdjust="spacingAndGlyphs" stroke="#15157a" stroke-width="0.35" stroke-linejoin="round">Steamed to halt oxidation.</text>
<text x="760.75" y="332" font-size="13.2" fill="#15157a" font-weight="bold" textLength="220.0" lengthAdjust="spacingAndGlyphs" stroke="#15157a" stroke-width="0.35" stroke-linejoin="round">Deveined, dried, de-stemmed, and graded</text>
<text x="760.75" y="349.5" font-size="13.2" fill="#15157a" font-weight="bold" textLength="89.25" lengthAdjust="spacingAndGlyphs" stroke="#15157a" stroke-width="0.35" stroke-linejoin="round">based on quality.</text>
<text x="662.75" y="391.25" font-size="13.2" fill="#15157a" font-weight="bold" textLength="43.75" lengthAdjust="spacingAndGlyphs" stroke="#15157a" stroke-width="0.35" stroke-linejoin="round">Grinding</text>
<path d="M710.75,386.75 Q726.875,385.75 743,386.75 Q726.875,387.75 710.75,386.75 Z" stroke="#0b0b3b" stroke-width="2.0" stroke-linejoin="round" fill="#0b0b3b"/>
<text x="746.25" y="381.75" font-size="13.2" fill="#15157a" font-weight="bold" textLength="210.0" lengthAdjust="spacingAndGlyphs" stroke="#15157a" stroke-width="0.35" stroke-linejoin="round">Processed using stone mills to produce</text>
<text x="746.25" y="400" font-size="13.2" fill="#15157a" font-weight="bold" textLength="65.0" lengthAdjust="spacingAndGlyphs" stroke="#15157a" stroke-width="0.35" stroke-linejoin="round">fine powder.</text>
<path d="M605,473.75 C621.25,473.75 621.25,414.25 637.5,414.25" fill="none" stroke="#0b0b3b" stroke-width="2.6" stroke-linecap="round" />
<path d="M605,473.75 C621.25,473.75 621.25,414.25 637.5,414.25" pathLength="100" fill="none" stroke="#fff" stroke-opacity="0.55" stroke-width="0.5" stroke-dasharray="0 22 50 100"/>
<path d="M605,473.75 C621.25,473.75 621.25,454.25 637.5,454.25" fill="none" stroke="#0b0b3b" stroke-width="2.6" stroke-linecap="round" />
<path d="M605,473.75 C621.25,473.75 621.25,493 637.5,493" fill="none" stroke="#0b0b3b" stroke-width="2.6" stroke-linecap="round" />
<path d="M605,473.75 C621.25,473.75 621.25,532.5 637.5,532.5" fill="none" stroke="#0b0b3b" stroke-width="2.6" stroke-linecap="round" />
<path d="M605,473.75 C621.25,473.75 621.25,532.5 637.5,532.5" pathLength="100" fill="none" stroke="#fff" stroke-opacity="0.55" stroke-width="0.5" stroke-dasharray="0 22 50 100"/>
<text x="640" y="419" font-size="13.2" fill="#15157a" font-weight="bold" textLength="43.75" lengthAdjust="spacingAndGlyphs" stroke="#15157a" stroke-width="0.35" stroke-linejoin="round">Varieties</text>
<path d="M687.5,414 Q702.5,413.0 717.5,414 Q702.5,415.0 687.5,414 Z" stroke="#0b0b3b" stroke-width="2.0" stroke-linejoin="round" fill="#0b0b3b"/>
<text x="720.5" y="419" font-size="13.2" fill="#15157a" font-weight="bold" textLength="135.25" lengthAdjust="spacingAndGlyphs" stroke="#15157a" stroke-width="0.35" stroke-linejoin="round">Iced lattes, hot tea, baking.</text>
<text x="640" y="457.75" font-size="13.2" fill="#15157a" font-weight="bold" textLength="113.25" lengthAdjust="spacingAndGlyphs" stroke="#15157a" stroke-width="0.35" stroke-linejoin="round">Traditional Preparation</text>
<path d="M757,453.5 Q772.25,452.5 787.5,453.5 Q772.25,454.5 757,453.5 Z" stroke="#0b0b3b" stroke-width="2.0" stroke-linejoin="round" fill="#0b0b3b"/>
<text x="790.5" y="449.5" font-size="13.2" fill="#15157a" font-weight="bold" textLength="193.25" lengthAdjust="spacingAndGlyphs" stroke="#15157a" stroke-width="0.35" stroke-linejoin="round">1/4 teaspoon matcha with 2 ounces hot</text>
<text x="790.5" y="466.25" font-size="13.2" fill="#15157a" font-weight="bold" textLength="30.25" lengthAdjust="spacingAndGlyphs" stroke="#15157a" stroke-width="0.35" stroke-linejoin="round">water.</text>
<text x="640" y="496.75" font-size="13.2" fill="#15157a" font-weight="bold" textLength="64.5" lengthAdjust="spacingAndGlyphs" stroke="#15157a" stroke-width="0.35" stroke-linejoin="round">Matcha Latte</text>
<path d="M708,493 Q723.375,492.0 738.75,493 Q723.375,494.0 708,493 Z" stroke="#0b0b3b" stroke-width="2.0" stroke-linejoin="round" fill="#0b0b3b"/>
<text x="741.5" y="496.75" font-size="13.2" fill="#15157a" font-weight="bold" textLength="171.5" lengthAdjust="spacingAndGlyphs" stroke="#15157a" stroke-width="0.35" stroke-linejoin="round">Matcha powder with steamed milk.</text>
<text x="640" y="536" font-size="13.2" fill="#15157a" font-weight="bold" textLength="89.25" lengthAdjust="spacingAndGlyphs" stroke="#15157a" stroke-width="0.35" stroke-linejoin="round">Iced Matcha Latte</text>
<path d="M733,532.5 Q748.125,531.5 763.25,532.5 Q748.125,533.5 733,532.5 Z" stroke="#0b0b3b" stroke-width="2.0" stroke-linejoin="round" fill="#0b0b3b"/>
<text x="766.25" y="527.5" font-size="13.2" fill="#15157a" font-weight="bold" textLength="201.75" lengthAdjust="spacingAndGlyphs" stroke="#15157a" stroke-width="0.35" stroke-linejoin="round">Blend milk, matcha powder, vanilla syrup</text>
<text x="766.25" y="545" font-size="13.2" fill="#15157a" font-weight="bold" textLength="86.25" lengthAdjust="spacingAndGlyphs" stroke="#15157a" stroke-width="0.35" stroke-linejoin="round">or honey, and ice.</text>
<g>
<clipPath id="lgc"><ellipse cx="107.6" cy="502" rx="18.9" ry="12.2"/></clipPath>
<g clip-path="url(#lgc)">
<rect x="88" y="489" width="40" height="26" fill="#20a4d0"/>
<path d="M85,499 C92,499 99.6,500.5 99.6,508 L99.6,516 L85,516 Z" fill="#1b80d2"/>
<path d="M130.2,499 C123.2,499 115.6,500.5 115.6,508 L115.6,516 L130.2,516 Z" fill="#1b80d2"/>
<g fill="none" stroke="#fff">
<path d="M85,498.9 C93,499 99.9,500.5 99.9,508 L99.9,516" stroke-width="1.9"/>
<path d="M130.2,498.9 C122.2,499 115.3,500.5 115.3,508 L115.3,516" stroke-width="1.9"/>
<path d="M94,490.8 C100,493.5 104.9,497.5 104.9,504 L104.9,516" stroke-width="1.8"/>
<path d="M121.2,490.8 C115.2,493.5 110.3,497.5 110.3,504 L110.3,516" stroke-width="1.8"/>
</g></g>
</g>
<text x="46.6" y="522.4" font-size="7.8" fill="#000" font-weight="bold" textLength="122.2" lengthAdjust="spacingAndGlyphs" stroke="#000" stroke-width="0.65" stroke-linejoin="round">Health365Info.com</text>
<text x="68" y="529.2" font-size="4.2" fill="#111" font-weight="normal" textLength="79" lengthAdjust="spacingAndGlyphs" >DEMOCRATIZE HEALTH INFO</text>
</svg></body></html>
